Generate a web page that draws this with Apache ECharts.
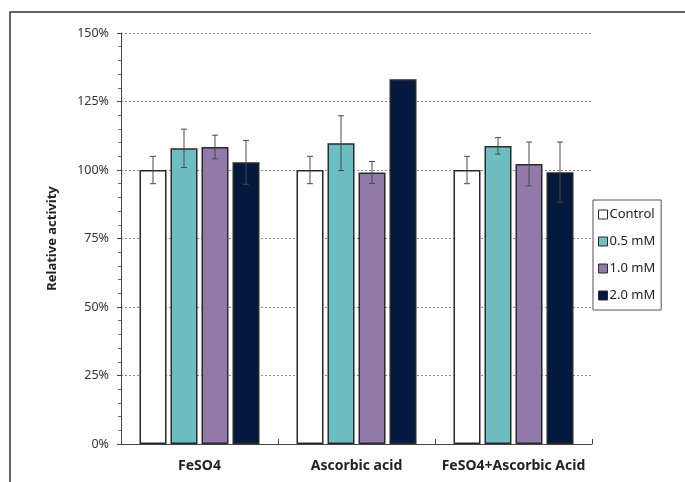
<!DOCTYPE html>
<html>
<head>
<meta charset="utf-8">
<script src="https://cdn.jsdelivr.net/npm/echarts@6/dist/echarts.min.js"></script>
<style>
  html, body { margin: 0; padding: 0; background: #fff; }
  #chart { width: 685px; height: 482px; }
</style>
</head>
<body>
<div id="chart"></div>
<script>
// 数据
var categories = ['FeSO4', 'Ascorbic acid', 'FeSO4+Ascorbic Acid'];
var seriesNames = ['Control', '0.5 mM', '1.0 mM', '2.0 mM'];
var control = [100, 100, 100];
var mM05 = [107.9, 109.8, 108.8];
var mM10 = [108.4, 99.1, 102.2];
var mM20 = [102.8, 133.1, 99.2];
// 误差（±）
var errControl = [5, 5, 5];
var err05 = [7, 10, 3];
var err10 = [4.3, 4, 8];
var err20 = [8, 0, 11];
var yTicks = [0, 25, 50, 75, 100, 125, 150];

var values = [control, mM05, mM10, mM20];
var errors = [errControl, err05, err10, err20];
var colors = ['#ffffff', '#6dbec3', '#917aa9', '#031a3e'];

var barWidth = 27;
var barGapPx = 4;
var fontName = 'Noto Sans';

var chart = echarts.init(document.getElementById('chart'));

var series = [];
seriesNames.forEach(function (name, i) {
  series.push({
    name: name,
    type: 'bar',
    data: values[i],
    barWidth: barWidth,
    barGap: (barGapPx / barWidth * 100) + '%',
    itemStyle: { color: colors[i], borderColor: '#2a2a2a', borderWidth: 1.5 },
    emphasis: { disabled: true },
    z: 2
  });
});

// 误差线，放在柱子上面
seriesNames.forEach(function (name, i) {
  var errData = values[i].map(function (v, k) { return [k, v - errors[i][k], v + errors[i][k]]; });
  series.push({
    type: 'custom',
    name: name + ' err',
    data: errData,
    z: 5,
    silent: true,
    renderItem: function (params, api) {
      var k = api.value(0);
      if (api.value(1) === api.value(2)) return;
      var lo = api.coord([k, api.value(1)]);
      var hi = api.coord([k, api.value(2)]);
      var offset = (i - 1.5) * (barWidth + barGapPx);
      var x = lo[0] + offset;
      var cap = 3;
      var style = { stroke: '#4a4a4a', lineWidth: 1 };
      return {
        type: 'group',
        children: [
          { type: 'line', shape: { x1: x, y1: lo[1], x2: x, y2: hi[1] }, style: style },
          { type: 'line', shape: { x1: x - cap, y1: lo[1], x2: x + cap, y2: lo[1] }, style: style },
          { type: 'line', shape: { x1: x - cap, y1: hi[1], x2: x + cap, y2: hi[1] }, style: style }
        ]
      };
    }
  });
});

var option = {
  animation: false,
  textStyle: { fontFamily: fontName },
  grid: { left: 121, right: 93, top: 33, bottom: 38 },
  legend: {
    data: seriesNames,
    orient: 'vertical',
    left: 593,
    top: 200,
    itemWidth: 9,
    itemHeight: 9,
    itemGap: 14,
    padding: [8, 6, 8, 5],
    borderColor: '#555',
    borderWidth: 1,
    icon: 'rect',
    textStyle: { fontFamily: fontName, fontSize: 13, color: '#222', padding: [0, 0, 0, -3] },
    itemStyle: { borderColor: '#2a2a2a', borderWidth: 1 }
  },
  graphic: [{
    type: 'polyline',
    shape: { points: [[10, 482], [10, 12], [685, 12]] },
    style: { stroke: '#333', lineWidth: 1.5, fill: null }
  }],
  xAxis: {
    type: 'category',
    data: categories,
    axisLine: { lineStyle: { color: '#444', width: 1 } },
    axisTick: { show: true, inside: true, interval: 0, length: 5, lineStyle: { color: '#444' } },
    axisLabel: { interval: 0, hideOverlap: false, fontFamily: fontName, fontSize: 14, fontWeight: 'bold', color: '#222', margin: 15 }
  },
  yAxis: {
    type: 'value',
    min: yTicks[0],
    max: yTicks[yTicks.length - 1],
    interval: 25,
    name: 'Relative activity',
    nameLocation: 'middle',
    nameGap: 62,
    nameTextStyle: { fontFamily: fontName, fontSize: 13, fontWeight: 'bold', color: '#222' },
    axisLine: { show: true, lineStyle: { color: '#444', width: 1 } },
    axisTick: { show: true, length: 4, lineStyle: { color: '#444' } },
    minorTick: { show: true, splitNumber: 5, length: 3, lineStyle: { color: '#666' } },
    axisLabel: { formatter: '{value}%', fontFamily: fontName, fontSize: 12.5, color: '#333', margin: 12 },
    splitLine: { show: true, lineStyle: { color: '#888', type: [2, 2], width: 1 } }
  },
  series: series
};

chart.setOption(option);
</script>
</body>
</html>
